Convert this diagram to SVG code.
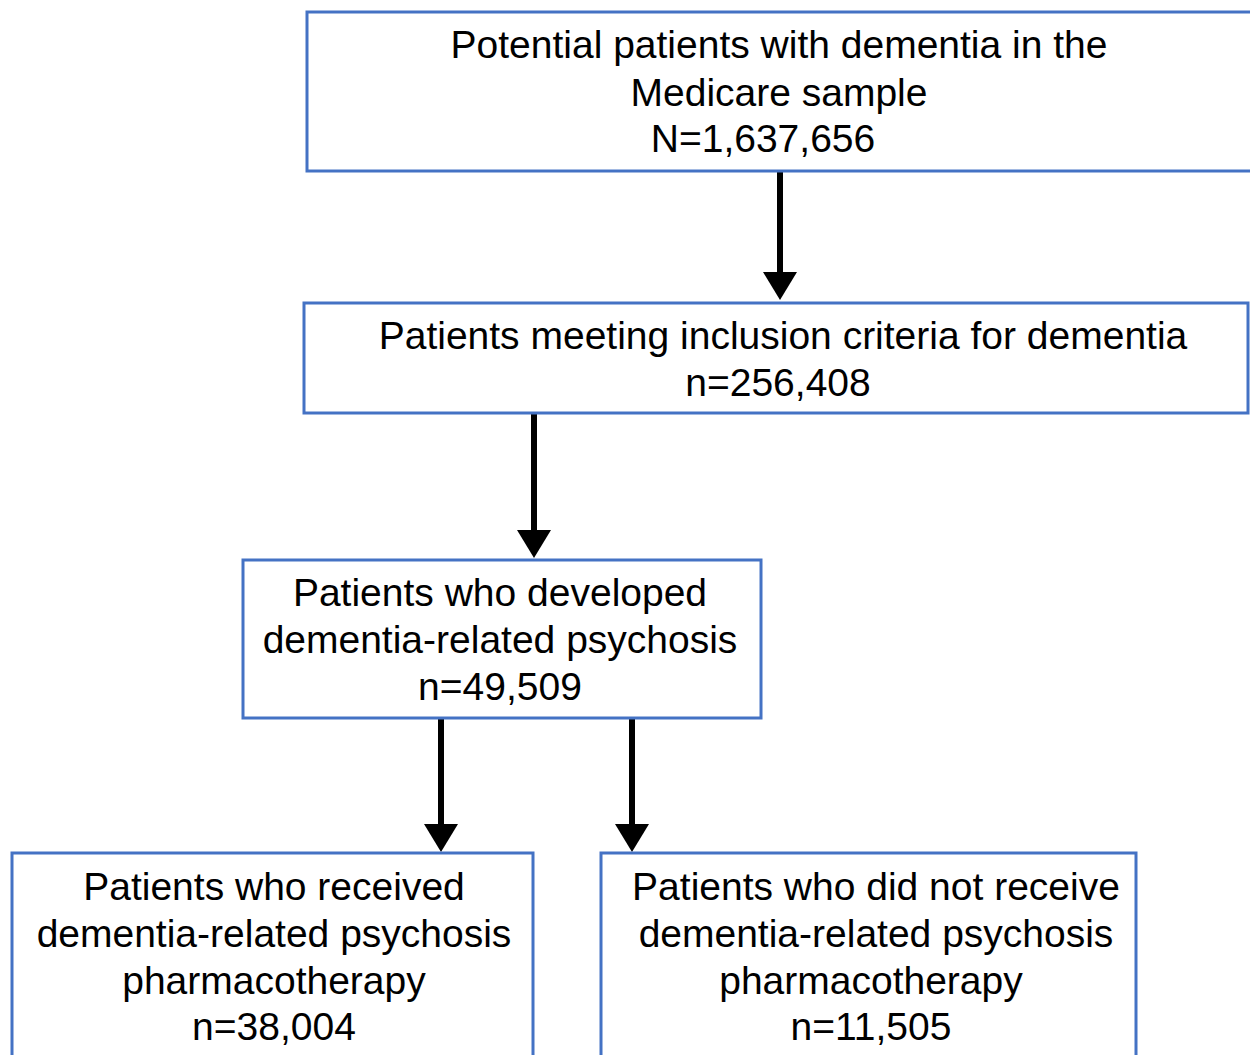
<svg xmlns="http://www.w3.org/2000/svg" width="1250" height="1055" viewBox="0 0 1250 1055">
<style>
.box{fill:#fff;stroke:#4472C4;stroke-width:3}
.t{font-family:"Liberation Sans",Arial,sans-serif;font-size:39px;fill:#000;text-anchor:middle}
.c{stroke:#000;stroke-width:6;fill:none}
.h{fill:#000}
</style>
<rect width="1250" height="1055" fill="#fff"/>
<g id="connectors">
<line class="c" x1="780" y1="172" x2="780" y2="272"/>
<path class="h" d="M763,272 L797,272 L780,300 Z"/>
<line class="c" x1="534" y1="414" x2="534" y2="530"/>
<path class="h" d="M517,530 L551,530 L534,558 Z"/>
<line class="c" x1="441" y1="719" x2="441" y2="824"/>
<path class="h" d="M424,824 L458,824 L441,852 Z"/>
<line class="c" x1="632" y1="719" x2="632" y2="824"/>
<path class="h" d="M615,824 L649,824 L632,852 Z"/>
</g>
<g id="n1">
<rect class="box" x="307" y="12" width="948" height="159"/>
<text class="t" x="779" y="58">Potential patients with dementia in the</text>
<text class="t" x="779" y="106">Medicare sample</text>
<text class="t" x="763" y="152">N=1,637,656</text>
</g>
<g id="n2">
<rect class="box" x="304" y="303" width="944" height="110"/>
<text class="t" x="783" y="349">Patients meeting inclusion criteria for dementia</text>
<text class="t" x="778" y="396">n=256,408</text>
</g>
<g id="n3">
<rect class="box" x="243" y="560" width="518" height="158"/>
<text class="t" x="500" y="606">Patients who developed</text>
<text class="t" x="500" y="653">dementia-related psychosis</text>
<text class="t" x="500" y="700">n=49,509</text>
</g>
<g id="n4">
<rect class="box" x="12" y="853" width="521" height="220"/>
<text class="t" x="274" y="900">Patients who received</text>
<text class="t" x="274" y="947">dementia-related psychosis</text>
<text class="t" x="274" y="994">pharmacotherapy</text>
<text class="t" x="274" y="1040">n=38,004</text>
</g>
<g id="n5">
<rect class="box" x="601" y="853" width="535" height="220"/>
<text class="t" x="876" y="900">Patients who did not receive</text>
<text class="t" x="876" y="947">dementia-related psychosis</text>
<text class="t" x="871" y="994">pharmacotherapy</text>
<text class="t" x="871" y="1040">n=11,505</text>
</g>
</svg>
